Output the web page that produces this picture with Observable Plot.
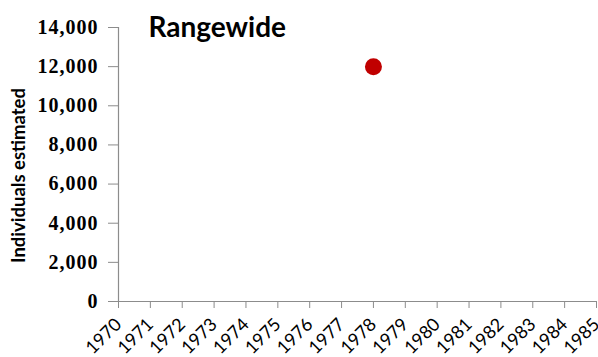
<!DOCTYPE html>
<html><head><meta charset="utf-8">
<script src="https://cdn.jsdelivr.net/npm/d3@7"></script>
<script src="https://cdn.jsdelivr.net/npm/@observablehq/plot@0.6"></script>
<style>body{margin:0;background:#fff}</style>
</head><body><div id="chart"></div>
<script>
const years = d3.range(1970, 1986);
const yTicks = [0, 2000, 4000, 6000, 8000, 10000, 12000, 14000];
const pointYears = [1978];
const pointValues = [12000];
const title = "Rangewide";
const yTitle = "Individuals estimated";

const pts = pointYears.map((y, i) => ({year: y, value: pointValues[i]}));
const axisColor = "#8c8c8c";

const chart = Plot.plot({
  width: 598, height: 357,
  marginLeft: 118, marginRight: 2, marginTop: 27, marginBottom: 56,
  x: {domain: [1970, 1985]},
  y: {domain: [0, 14000]},
  marks: [
    Plot.ruleX([1970], {stroke: axisColor, strokeWidth: 1.2}),
    Plot.ruleY([0], {stroke: axisColor, strokeWidth: 1.2}),
    Plot.axisY({ticks: yTicks, tickFormat: d3.format(","), tickSize: 10, tickPadding: 10,
      stroke: axisColor, fill: "#000", label: null,
      fontFamily: "Liberation Serif", fontWeight: "bold", fontSize: 20}),
    Plot.axisX({ticks: years, tickFormat: d => String(d), tickSize: 7, tickRotate: -45,
      stroke: axisColor, fill: "#000", label: null, tickPadding: 13,
      fontFamily: "Lato", fontSize: 18}),
    Plot.dot(pts, {x: "year", y: "value", r: 8.5, fill: "#c00000", stroke: "none"}),
    Plot.text([title], {frameAnchor: "top-left", text: d => d, dx: 30, dy: -10,
      fontFamily: "Lato", fontWeight: "bold", fontSize: 28, fill: "#000", textAnchor: "start"}),
    Plot.text([yTitle], {frameAnchor: "left", text: d => d, dx: -99, dy: 11, rotate: -90,
      textAnchor: "middle",
      fontFamily: "Lato", fontWeight: "bold", fontSize: 18.5, fill: "#000"})
  ]
});
d3.select(chart).selectAll("g[aria-label='y-axis tick label'] text").attr("letter-spacing", "1");
document.getElementById("chart").appendChild(chart);
</script>
</body></html>
